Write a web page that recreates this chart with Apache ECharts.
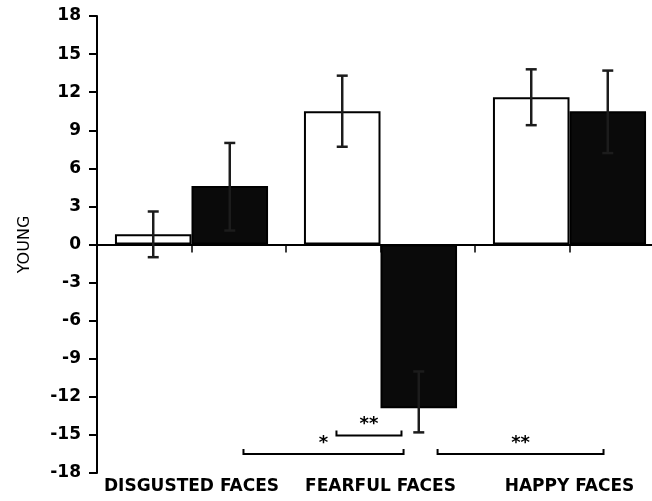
<!DOCTYPE html>
<html>
<head>
<meta charset="utf-8">
<script src="https://cdn.jsdelivr.net/npm/echarts@6/dist/echarts.min.js"></script>
<style>
html,body{margin:0;padding:0;background:#fff;overflow:hidden;width:652px;height:501px;}
#chart{width:664px;height:501px;}
</style>
</head>
<body>
<div id="chart"></div>
<script>
const categories = ['DISGUSTED FACES', 'FEARFUL FACES', 'HAPPY FACES'];
const whiteValues = [0.8, 10.5, 11.6];
const whiteErrLow = [-1.0, 7.7, 9.4];
const whiteErrHigh = [2.6, 13.3, 13.8];
const blackValues = [4.6, -12.9, 10.5];
const blackErrLow = [1.1, -14.8, 7.2];
const blackErrHigh = [8.0, -10.0, 13.7];
const yMin = -18, yMax = 18, yStep = 3;
// significance brackets: start/end in category units, levels in data units
const bracketStart = [0.275, 0.767, 1.302];
const bracketEnd = [1.122, 1.111, 2.18];
const bracketLevel = [-16.5, -15.05, -16.5];
const bracketStarLevel = [-15.7, -14.2, -15.7];
const bracketLabels = ['*', '**', '**'];

const FONT = 'DejaVu Sans';
const chart = echarts.init(document.getElementById('chart'));

const errData = [];
for (let i = 0; i < categories.length; i++) {
  errData.push([i, whiteErrLow[i], whiteErrHigh[i], -1]);
  errData.push([i, blackErrLow[i], blackErrHigh[i], 1]);
}
const bracketData = bracketStart.map((s, i) => [s, bracketEnd[i], bracketLevel[i], bracketStarLevel[i]]);

chart.setOption({
  animation: false,
  backgroundColor: '#fff',
  grid: {left: 97, right: 0, top: 16, bottom: 28, containLabel: false},
  xAxis: [{
    type: 'category',
    data: categories,
    position: 'bottom',
    axisLine: {show: false, onZero: false},
    axisTick: {show: false},
    axisLabel: {
      show: true, margin: 5, color: '#000', fontFamily: FONT, fontWeight: 'bold', fontSize: 17,
      interval: 0
    }
  }, {
    type: 'value',
    min: -0.5, max: 2.5, interval: 0.5,
    position: 'bottom',
    axisLine: {show: true, onZero: true, lineStyle: {color: '#000', width: 2}},
    axisTick: {show: true, length: 8, lineStyle: {color: '#000', width: 1.5}},
    axisLabel: {show: false},
    splitLine: {show: false}
  }],
  yAxis: {
    type: 'value',
    min: yMin, max: yMax, interval: yStep,
    position: 'left',
    name: 'YOUNG',
    nameLocation: 'middle',
    nameRotate: 90,
    nameGap: 64,
    nameTextStyle: {color: '#000', fontFamily: FONT, fontSize: 16},
    axisLine: {show: true, onZero: false, lineStyle: {color: '#000', width: 2}},
    axisTick: {show: true, length: 8, lineStyle: {color: '#000', width: 2}},
    axisLabel: {color: '#000', fontFamily: FONT, fontWeight: 'bold', fontSize: 17, margin: 16},
    splitLine: {show: false}
  },
  series: [{
    type: 'bar',
    xAxisIndex: 0,
    data: whiteValues,
    barCategoryGap: '19%',
    barGap: '0%',
    itemStyle: {color: '#fff', borderColor: '#000', borderWidth: 2}
  }, {
    type: 'bar',
    xAxisIndex: 0,
    data: blackValues,
    barCategoryGap: '19%',
    barGap: '0%',
    itemStyle: {color: '#0a0a0a', borderColor: '#000', borderWidth: 2}
  }, {
    type: 'custom',
    xAxisIndex: 0,
    z: 5,
    data: errData,
    renderItem: function (params, api) {
      const cat = api.value(0);
      const lo = api.value(1), hi = api.value(2), side = api.value(3);
      const band = api.size([1, 0])[0];
      const x = api.coord([cat, 0])[0] + side * band * 0.2025;
      const yLo = api.coord([cat, lo])[1];
      const yHi = api.coord([cat, hi])[1];
      const cap = 5.5;
      const style = {stroke: '#1c1c1c', lineWidth: 2.5};
      return {
        type: 'group',
        children: [
          {type: 'line', shape: {x1: x, y1: yLo, x2: x, y2: yHi}, style: style},
          {type: 'line', shape: {x1: x - cap, y1: yLo, x2: x + cap, y2: yLo}, style: style},
          {type: 'line', shape: {x1: x - cap, y1: yHi, x2: x + cap, y2: yHi}, style: style}
        ]
      };
    }
  }, {
    type: 'custom',
    xAxisIndex: 1,
    z: 5,
    data: bracketData,
    renderItem: function (params, api) {
      const p1 = api.coord([api.value(0), api.value(2)]);
      const p2 = api.coord([api.value(1), api.value(2)]);
      const ps = api.coord([(api.value(0) + api.value(1)) / 2, api.value(3)]);
      const style = {stroke: '#000', lineWidth: 2};
      const tick = 5;
      return {
        type: 'group',
        children: [
          {type: 'polyline', shape: {points: [[p1[0], p1[1] - tick], [p1[0], p1[1]], [p2[0], p2[1]], [p2[0], p2[1] - tick]]}, style: Object.assign({fill: null}, style)},
          {type: 'text', x: ps[0], y: ps[1], style: {
            text: bracketLabels[params.dataIndex], fill: '#000', font: 'bold 18px "DejaVu Sans"',
            align: 'center', verticalAlign: 'middle'
          }}
        ]
      };
    }
  }]
});
</script>
</body>
</html>
